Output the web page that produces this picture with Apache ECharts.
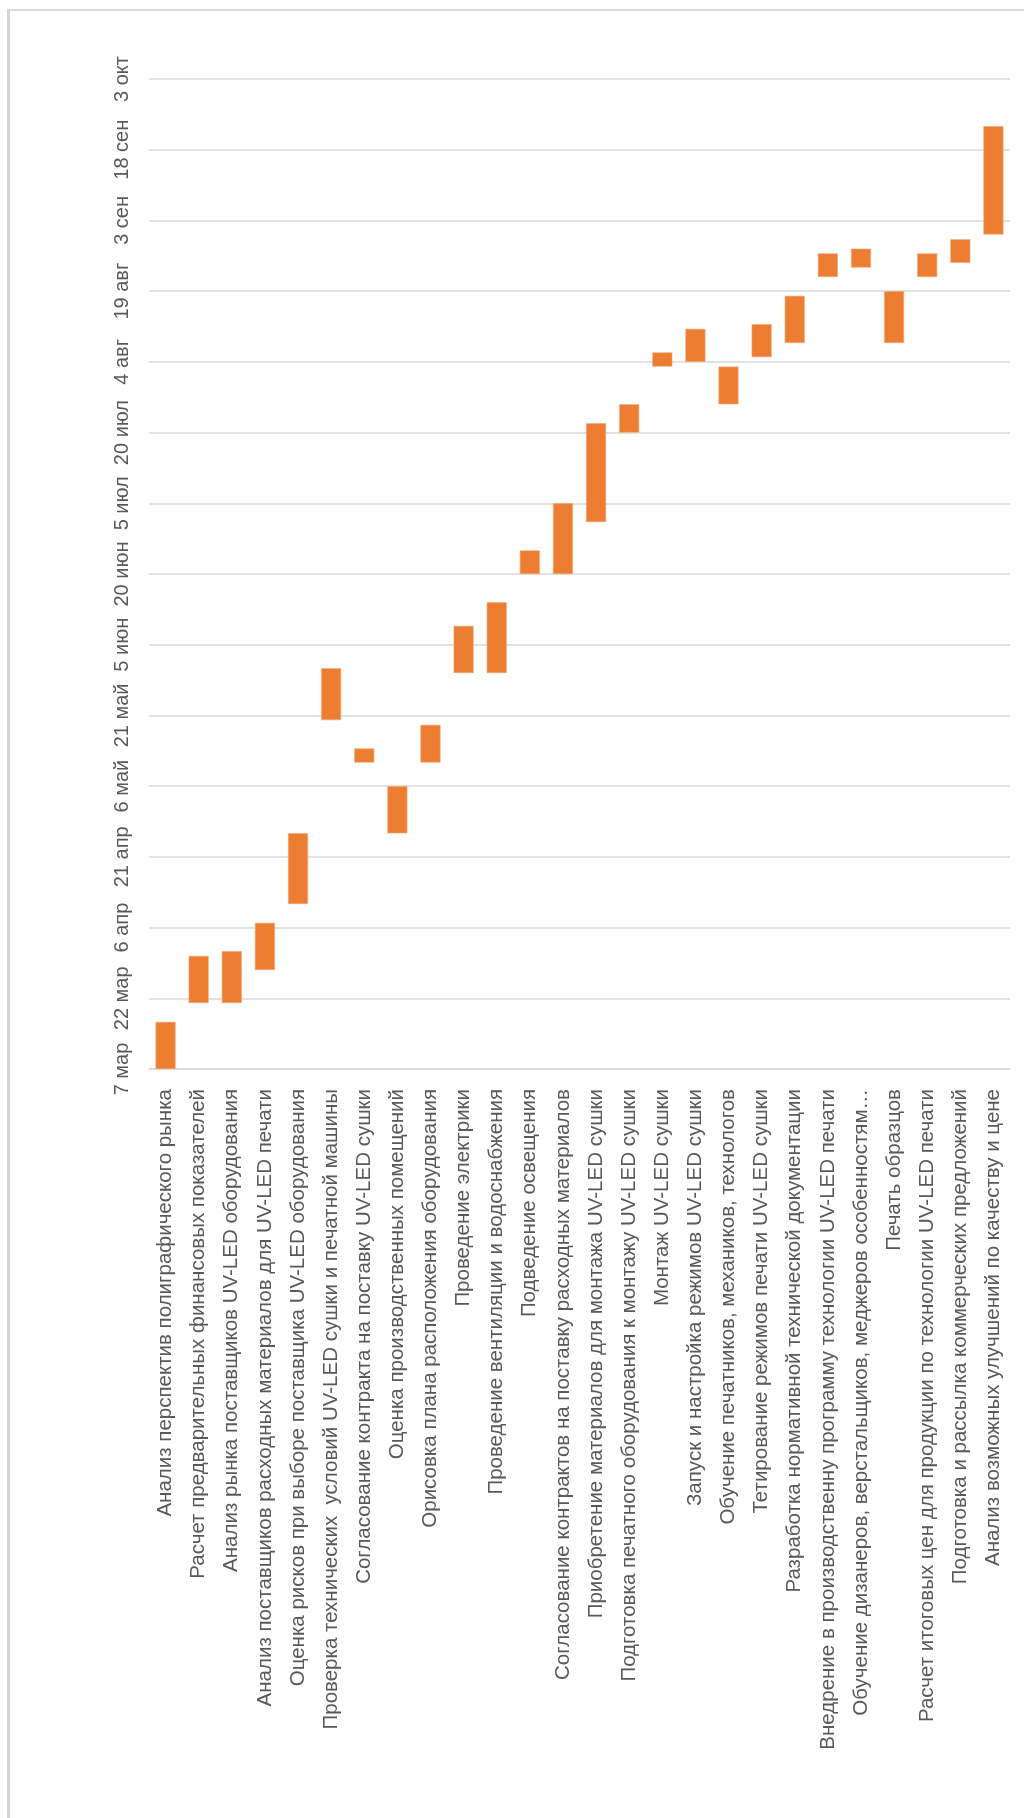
<!DOCTYPE html>
<html>
<head>
<meta charset="utf-8">
<script src="https://cdn.jsdelivr.net/npm/echarts@6/dist/echarts.min.js"></script>
<style>
  html, body { margin: 0; padding: 0; background: #ffffff; }
  #chart { width: 1024px; height: 1818px; }
</style>
</head>
<body>
<div id="chart"></div>
<script>
// Project stages for introducing UV-LED drying into the print shop
const tasks = [
  'Анализ перспектив полиграфического рынка',
  'Расчет предварительных финансовых показателей',
  'Анализ рынка поставщиков UV-LED оборудования',
  'Анализ поставщиков расходных материалов для UV-LED печати',
  'Оценка рисков при выборе поставщика UV-LED оборудования',
  'Проверка технических  условий UV-LED сушки и печатной машины',
  'Согласование контракта на поставку UV-LED сушки',
  'Оценка производственных помещений',
  'Орисовка плана расположения оборудования',
  'Проведение электрики',
  'Проведение вентиляции и водоснабжения',
  'Подведение освещения',
  'Согласование контрактов на поставку расходных материалов',
  'Приобретение материалов для монтажа UV-LED сушки',
  'Подготовка печатного оборудования к монтажу UV-LED сушки',
  'Монтаж UV-LED сушки',
  'Запуск и настройка режимов UV-LED сушки',
  'Обучение печатников, механиков, технологов',
  'Тетирование режимов печати UV-LED сушки',
  'Разработка нормативной технической документации',
  'Внедрение в производственну программу технологии UV-LED печати',
  'Обучение дизанеров, верстальщиков, меджеров особенностям…',
  'Печать образцов',
  'Расчет итоговых цен для продукции по технологии UV-LED печати',
  'Подготовка и рассылка коммерческих предложений',
  'Анализ возможных улучшений по качеству и цене'
];

// Start date of every stage
const startDates = [
  '2023-03-07', '2023-03-21', '2023-03-21', '2023-03-28', '2023-04-11',
  '2023-05-20', '2023-05-11', '2023-04-26', '2023-05-11', '2023-05-30',
  '2023-05-30', '2023-06-20', '2023-06-20', '2023-07-01', '2023-07-20',
  '2023-08-03', '2023-08-04', '2023-07-26', '2023-08-05', '2023-08-08',
  '2023-08-22', '2023-08-24', '2023-08-08', '2023-08-22', '2023-08-25',
  '2023-08-31'
];

// Duration of every stage, days
const durations = [
  10, 10, 11, 10, 15,
  11, 3, 10, 8, 10,
  15, 5, 15, 21, 6,
  3, 7, 8, 7, 10,
  5, 4, 11, 5, 5,
  23
];

// Date axis: tick every 15 days starting from 7 March
const axisStart = '2023-03-07';
const tickStep = 15;
const dateTicks = [
  '7 мар', '22 мар', '6 апр', '21 апр', '6 май', '21 май', '5 июн', '20 июн',
  '5 июл', '20 июл', '4 авг', '19 авг', '3 сен', '18 сен', '3 окт'
];

const DAY = 86400000;
const dayOffset = d => Math.round((Date.parse(d) - Date.parse(axisStart)) / DAY);
const offsets = startDates.map(dayOffset);

const FONT = 'Liberation Sans';
const TEXT_GRAY = '#595959';
const GRID_GRAY = '#d9d9d9';

const chart = echarts.init(document.getElementById('chart'), null, { renderer: 'canvas' });

chart.setOption({
  animation: false,
  backgroundColor: '#ffffff',
  grid: { left: 149, right: 14, top: 79, bottom: 749, containLabel: false },
  xAxis: {
    type: 'category',
    data: tasks,
    boundaryGap: true,
    axisLine: { show: true, lineStyle: { color: GRID_GRAY, width: 1.5 } },
    axisTick: { show: false },
    splitLine: { show: false },
    axisLabel: {
      interval: 0,
      rotate: 90,
      margin: 20,
      color: TEXT_GRAY,
      fontFamily: FONT,
      fontSize: 20.5
    }
  },
  yAxis: {
    type: 'value',
    min: 0,
    max: tickStep * (dateTicks.length - 1),
    interval: tickStep,
    axisLine: { show: false },
    axisTick: { show: false },
    splitLine: { show: true, lineStyle: { color: GRID_GRAY, width: 1.5 } },
    axisLabel: {
      rotate: 90,
      margin: 17,
      color: TEXT_GRAY,
      fontFamily: FONT,
      fontSize: 20,
      formatter: v => dateTicks[Math.round(v / tickStep)] || ''
    }
  },
  series: [
    {
      name: 'start',
      type: 'bar',
      stack: 'plan',
      barWidth: 20,
      silent: true,
      itemStyle: { color: 'transparent' },
      data: offsets
    },
    {
      name: 'duration',
      type: 'bar',
      stack: 'plan',
      barWidth: 20,
      itemStyle: { color: '#ED7D31', borderColor: '#f3a878', borderWidth: 0.6 },
      data: durations
    }
  ],
  graphic: [
    {
      type: 'line',
      shape: { x1: 8.5, y1: 9, x2: 8.5, y2: 1818 },
      style: { stroke: '#d4d4d4', lineWidth: 3 }
    },
    {
      type: 'line',
      shape: { x1: 7, y1: 10, x2: 1024, y2: 10 },
      style: { stroke: '#d9d9d9', lineWidth: 2 }
    }
  ]
});
</script>
</body>
</html>
